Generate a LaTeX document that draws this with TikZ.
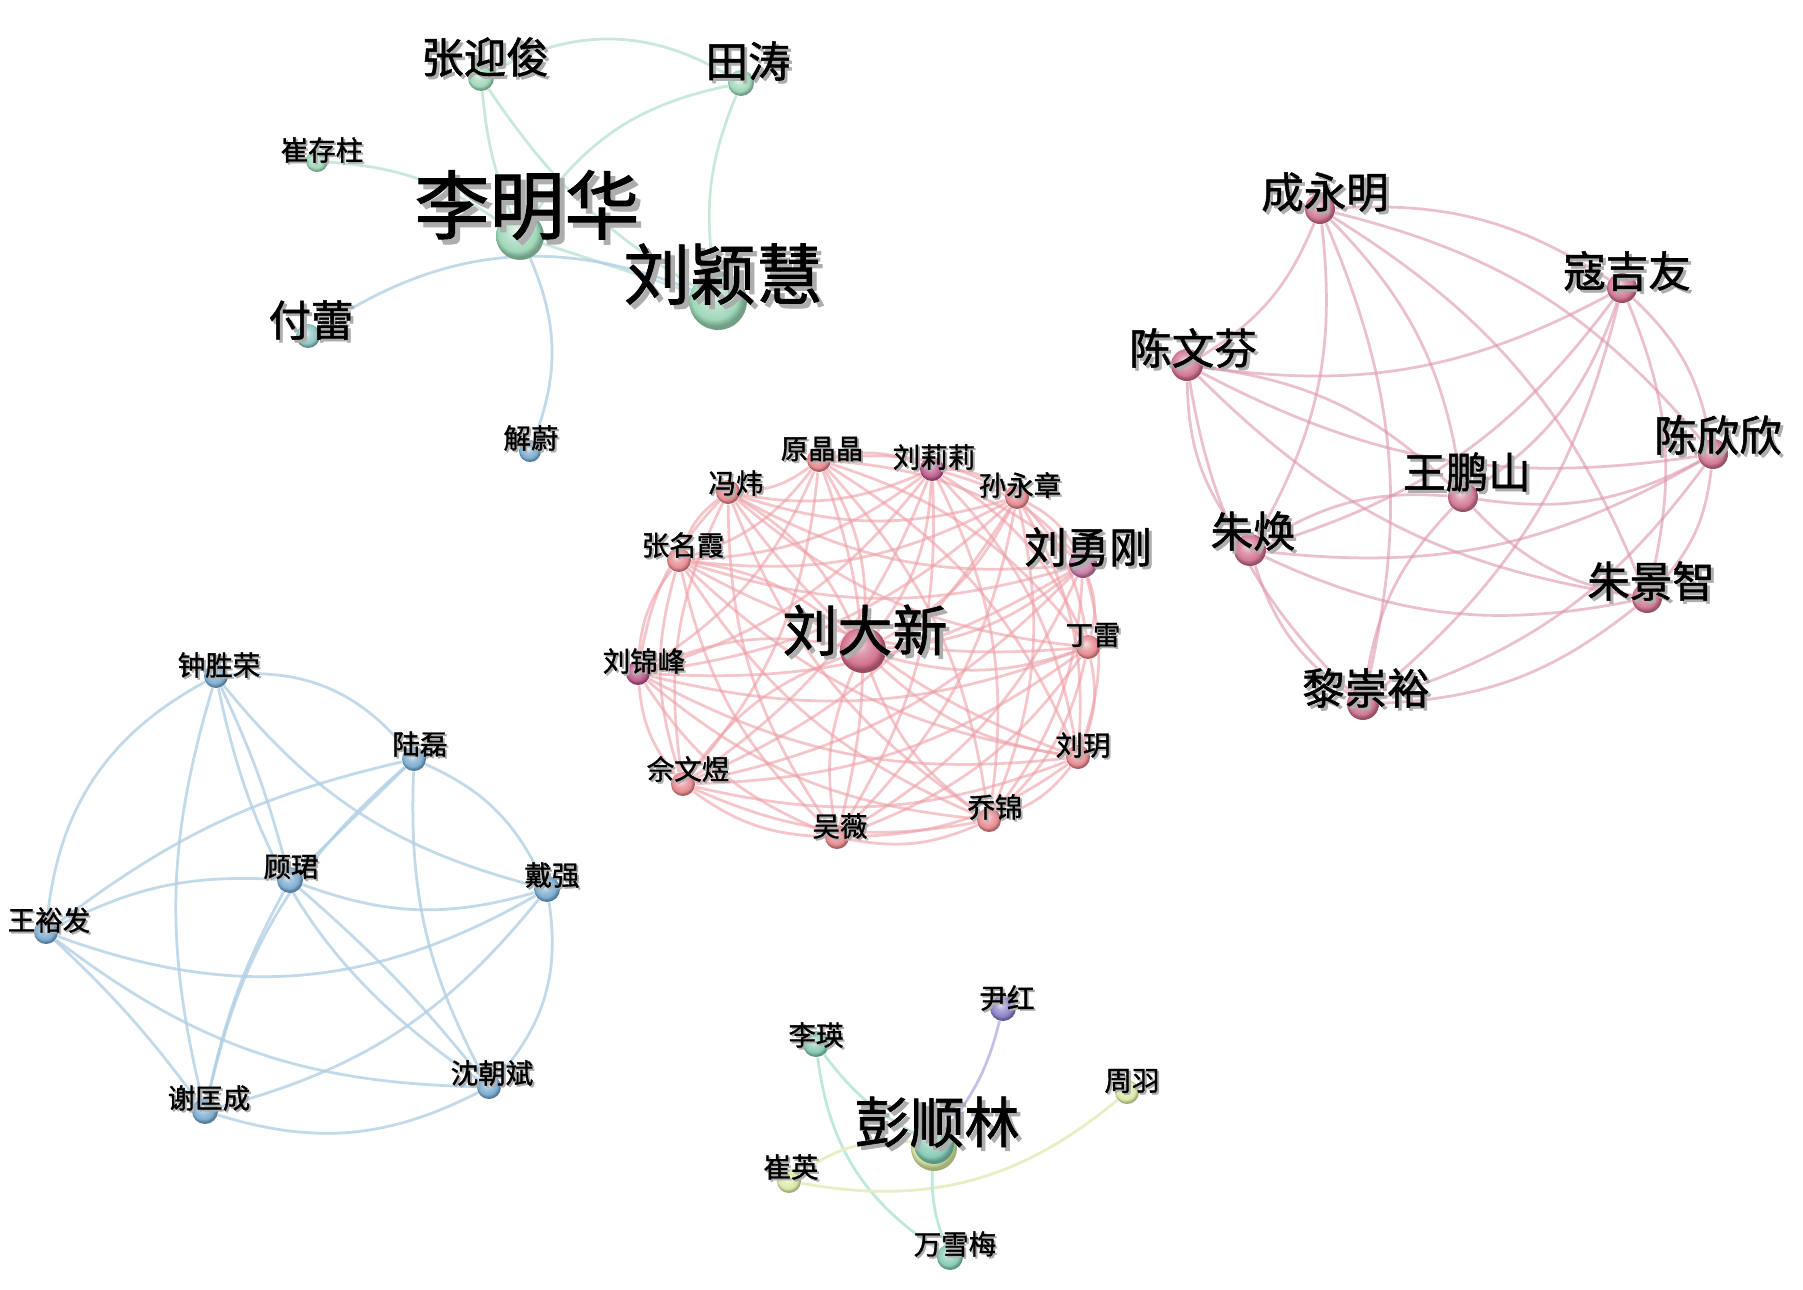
\documentclass[tikz,border=0pt]{standalone}
\usepackage{fontspec}
\newfontfamily\cjk{Noto Sans CJK SC}[FakeBold=1.2]
\usetikzlibrary{calc}
\pgfdeclarelayer{bg}\pgfdeclarelayer{edges}
\pgfsetlayers{bg,edges,main}
\definecolor{gN}{RGB}{150,212,178}
\definecolor{bN}{RGB}{112,165,205}
\definecolor{rN}{RGB}{205,108,138}
\definecolor{cN}{RGB}{228,128,135}
\definecolor{mN}{RGB}{180,78,130}
\definecolor{lN}{RGB}{195,115,160}
\definecolor{dN}{RGB}{205,100,130}
\definecolor{pN}{RGB}{128,118,195}
\definecolor{tN}{RGB}{125,198,175}
\definecolor{yN}{RGB}{215,232,160}
\definecolor{gE}{RGB}{200,232,218}
\definecolor{bE}{RGB}{178,208,228}
\definecolor{rE}{RGB}{222,150,172}
\definecolor{cE}{RGB}{238,160,168}
\definecolor{pE}{RGB}{198,192,232}
\definecolor{tE}{RGB}{190,232,218}
\definecolor{yE}{RGB}{230,238,195}
\colorlet{sphcol}{gray}
\pgfdeclareradialshading[sphcol]{sphere}{\pgfpoint{-5bp}{7bp}}{color(0bp)=(sphcol!22!white); color(10bp)=(sphcol!65!white); color(20bp)=(sphcol!90!white); color(25bp)=(sphcol!75!black); color(50bp)=(sphcol!75!black)}
\tikzset{
  col/.code={\colorlet{sphcol}{#1}},
  sph/.style={circle, inner sep=0pt, minimum size=#1*0.4pt, shading=sphere},
  lsh/.style={text=black!32, inner sep=0pt},
  ltx/.style={text=black, inner sep=0pt},
  eg/.style={draw=gE, line width=1.1pt},
  eb/.style={draw=bE, line width=1.1pt, draw opacity=0.8},
  er/.style={draw=rE, line width=1.1pt, draw opacity=0.6},
  ec/.style={draw=cE, line width=1.1pt, draw opacity=0.6},
  ep/.style={draw=pE, line width=1.1pt},
  et/.style={draw=tE, line width=1.1pt},
  ey/.style={draw=yE, line width=1.1pt}
}
\newcommand\lbl[4]{%
  \node[lsh, font=\cjk\fontsize{#3pt}{#3pt}\selectfont] (#1s) at ($(#2)+({0.17*#3},{0.17*#3})$) {#4};
  \node[ltx, font=\cjk\fontsize{#3pt}{#3pt}\selectfont] (#1) at (#2) {#4};}
\begin{document}
\begin{tikzpicture}[x=0.4pt,y=-0.4pt]
\begin{pgfonlayer}{bg}
\fill[white] (0,0) rectangle (1803,1289);
\end{pgfonlayer}
\useasboundingbox (0,0) rectangle (1803,1289);
% ---------- green cluster
\node[col=gN, sph=26] (zyj) at (481,78) {};
\node[col=gN, sph=26] (tt) at (741,83) {};
\node[col=gN, sph=22] (ccz) at (317,161) {};
\node[col=gN, sph=48] (lmh) at (520,236) {};
\node[col=gN, sph=58] (lyh) at (718,301) {};
\node[col=gN!55!bN, sph=24] (fl) at (308,336) {};
\node[col=bN, sph=22] (xw) at (530,451) {};
% ---------- right cluster
\node[col=rN, sph=30] (cym) at (1320,209) {};
\node[col=rN, sph=30] (kjy) at (1622,288) {};
\node[col=rN, sph=32] (cwf) at (1187,365) {};
\node[col=rN, sph=30] (cxx) at (1713,454) {};
\node[col=rN, sph=30] (wps) at (1463,497) {};
\node[col=rN, sph=32] (zh) at (1250,550) {};
\node[col=rN, sph=30] (zjz) at (1647,598) {};
\node[col=rN, sph=32] (lcy) at (1363,704) {};
% ---------- centre cluster
\node[col=cN, sph=24] (yjj) at (819,460) {};
\node[col=cN, sph=24] (fw) at (728,492) {};
\node[col=mN, sph=24] (lll) at (932,469) {};
\node[col=cN, sph=24] (syz) at (1017,497) {};
\node[col=cN, sph=24] (zmx) at (679,560) {};
\node[col=lN, sph=28] (lyg) at (1083,564) {};
\node[col=dN, sph=46] (ldx) at (863,650) {};
\node[col=cN, sph=24] (dl) at (1088,647) {};
\node[col=mN, sph=24] (ljf) at (638,673) {};
\node[col=cN, sph=24] (ly) at (1078,757) {};
\node[col=cN, sph=24] (swy) at (683,784) {};
\node[col=cN, sph=24] (qj) at (989,820) {};
\node[col=cN, sph=24] (ww) at (837,837) {};
% ---------- left cluster
\node[col=bN, sph=24] (zsr) at (216,676) {};
\node[col=bN, sph=24] (ll) at (414,759) {};
\node[col=bN, sph=26] (gj) at (290,880) {};
\node[col=bN, sph=26] (dq) at (547,889) {};
\node[col=bN, sph=24] (wyf) at (46,932) {};
\node[col=bN, sph=26] (xkc) at (205,1111) {};
\node[col=bN, sph=24] (scb) at (489,1087) {};
% ---------- bottom cluster
\node[col=pN, sph=26] (yh) at (1003,1008) {};
\node[col=tN, sph=26] (ly2) at (816,1044) {};
\node[col=yN, sph=24] (zy) at (1127,1092) {};
\node[col=yN, sph=46] (pslr) at (934,1148) {};
\node[col=tN, sph=40] (psl) at (934,1144) {};
\node[col=yN, sph=24] (cy) at (789,1181) {};
\node[col=tN, sph=26] (wxm) at (950,1257) {};
% ---------- edges
\begin{pgfonlayer}{edges}
\foreach \a/\b/\c in {zyj/tt/30, zyj/lmh/-8, zyj/lyh/-12, tt/lyh/-15, ccz/lmh/15, lmh/lyh/0}
  \draw[eg] (\a) to[bend left=\c] (\b);
\draw[eg] (tt) to[bend left=-22] (lmh);
\draw[eb] (fl) to[bend left=28] (lyh);
\draw[eb] (lmh) to[bend left=22] (xw);
\foreach \a [count=\i] in {cym,kjy,cxx,zjz,lcy,zh,cwf,wps}{
  \foreach \b [count=\j] in {cym,kjy,cxx,zjz,lcy,zh,cwf,wps}{
    \ifnum\j>\i \draw[er] (\a) to[bend left=18] (\b); \fi}}
\foreach \a [count=\i] in {yjj,lll,syz,lyg,dl,ly,qj,ww,swy,ljf,zmx,fw,ldx}{
  \foreach \b [count=\j] in {yjj,lll,syz,lyg,dl,ly,qj,ww,swy,ljf,zmx,fw,ldx}{
    \ifnum\j>\i \draw[ec] (\a) to[bend left=17] (\b); \fi}}
\foreach \a/\b/\c in {wyf/zsr/28, zsr/xkc/-15, zsr/gj/5, zsr/scb/-22, zsr/ll/28, zsr/dq/-18,
  ll/wyf/-12, ll/gj/0, ll/xkc/-18, ll/dq/20, ll/scb/-15, gj/wyf/-15, gj/dq/-18, gj/xkc/-8,
  gj/scb/5, dq/wyf/25, dq/xkc/18, dq/scb/25, wyf/xkc/5, wyf/scb/-18, xkc/scb/-22}
  \draw[eb] (\a) to[bend left=\c] (\b);
\draw[et] (ly2) to[bend left=-12] (psl);
\draw[et] (ly2) to[bend left=-25] (wxm);
\draw[ep] (yh) to[bend left=12] (psl);
\draw[ey] (zy) to[bend left=25] (cy);
\draw[ey] (cy) to[bend left=20] (psl);
\draw[et] (psl) to[bend left=-12] (wxm);
\end{pgfonlayer}
% ---------- labels
\lbl{zyjL}{485,57}{17}{张迎俊}
\lbl{ttL}{748,61}{17}{田涛}
\lbl{cczL}{322,150}{11}{崔存柱}
\lbl{lmhL}{527,205}{30}{李明华}
\lbl{lyhL}{723,274}{26.5}{刘颖慧}
\lbl{flL}{311,320}{17}{付蕾}
\lbl{xwL}{531,438}{11}{解蔚}
\lbl{cymL}{1325,192}{17}{成永明}
\lbl{kjyL}{1627,271}{17}{寇吉友}
\lbl{cwfL}{1193,348}{17}{陈文芬}
\lbl{cxxL}{1718,435}{17}{陈欣欣}
\lbl{wpsL}{1467,472}{17}{王鹏山}
\lbl{zhL}{1253,531}{17}{朱焕}
\lbl{zjzL}{1651,581}{17}{朱景智}
\lbl{lcyL}{1366,688}{17}{黎崇裕}
\lbl{yjjL}{822,449}{11}{原晶晶}
\lbl{fwL}{736,483}{11}{冯炜}
\lbl{lllL}{934,457}{11}{刘莉莉}
\lbl{syzL}{1020,485}{11}{孙永章}
\lbl{zmxL}{683,545}{11}{张名霞}
\lbl{lygL}{1088,547}{17}{刘勇刚}
\lbl{ldxL}{865,630}{22}{刘大新}
\lbl{dlL}{1093,635}{11}{丁雷}
\lbl{ljfL}{644,661}{11}{刘锦峰}
\lbl{lyL}{1083,745}{11}{刘玥}
\lbl{swyL}{688,769}{11}{佘文煜}
\lbl{qjL}{995,807}{11}{乔锦}
\lbl{wwL}{840,826}{11}{吴薇}
\lbl{zsrL}{219,665}{11}{钟胜荣}
\lbl{llL}{420,744}{11}{陆磊}
\lbl{gjL}{291,867}{11}{顾珺}
\lbl{dqL}{552,875}{11}{戴强}
\lbl{wyfL}{49,920}{11}{王裕发}
\lbl{xkcL}{209,1098}{11}{谢匡成}
\lbl{scbL}{492,1073}{11}{沈朝斌}
\lbl{yhL}{1007,998}{11}{尹红}
\lbl{ly2L}{816,1035}{11}{李瑛}
\lbl{zyL}{1132,1081}{11}{周羽}
\lbl{pslL}{937,1122}{22}{彭顺林}
\lbl{cyL}{791,1167}{11}{崔英}
\lbl{wxmL}{955,1244}{11}{万雪梅}
\end{tikzpicture}
\end{document}
